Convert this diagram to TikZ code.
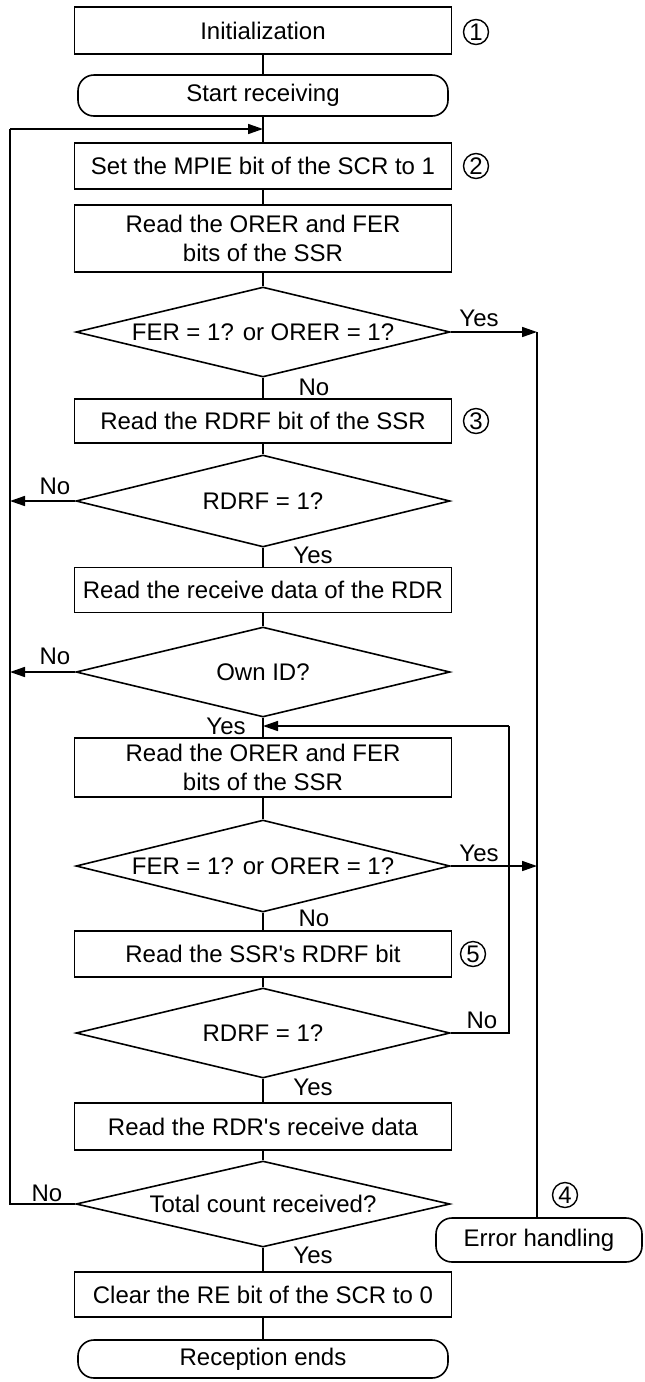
\documentclass[tikz,border=0pt]{standalone}
\usepackage{fontspec}
\setmainfont{Liberation Sans}
\usetikzlibrary{arrows.meta,shapes.geometric}
\begin{document}
\begin{tikzpicture}[x=0.5pt,y=-0.5pt,
  every node/.style={font=\fontsize{12}{14.5}\selectfont},
  procbox/.style={draw,line width=0.8pt,minimum width=188.5pt,inner sep=2pt,align=center},
  termbox/.style={draw,line width=0.8pt,rounded corners=8pt,minimum width=185pt,inner sep=2pt},
  decide/.style={draw,line width=0.8pt,diamond,shape aspect=4,minimum width=187pt,inner sep=0pt},
  lbl/.style={inner sep=0pt},
  num/.style={draw,circle,line width=0.7pt,minimum size=12.5pt,inner sep=0pt},
  conn/.style={line width=0.8pt},
  arr/.style={line width=0.8pt,-{Triangle[length=7.5pt,width=5pt]}}
]
\useasboundingbox (0,0) rectangle (644,1382);

% main column
\node[procbox,minimum height=23.5pt] (init) at (263,30.5) {Initialization};
\node[termbox,minimum height=20.5pt] (start) at (263,95.5) {Start receiving};
\coordinate (j1) at (263,129);
\node[procbox,minimum height=23pt] (mpie) at (263,166) {Set the MPIE bit of the SCR to 1};
\node[procbox,minimum height=33.5pt] (orer1) at (263,238.5) {Read the ORER and FER\\bits of the SSR};
\node[decide,minimum height=45pt] (fer1) at (263,332) {FER = 1? or ORER = 1?};
\node[procbox,minimum height=22pt] (rdrfb1) at (263,421) {Read the RDRF bit of the SSR};
\node[decide,minimum height=46pt] (rdrf1) at (263,501) {RDRF = 1?};
\node[procbox,minimum height=22.5pt] (rdrb1) at (263,590) {Read the receive data of the RDR};
\node[decide,minimum height=45pt] (own) at (263,672) {Own ID?};
\coordinate (j2) at (263,726);
\node[procbox,minimum height=29.5pt] (orer2) at (263,767.5) {Read the ORER and FER\\bits of the SSR};
\node[decide,minimum height=46pt] (fer2) at (263,866) {FER = 1? or ORER = 1?};
\node[procbox,minimum height=23pt] (rdrfb2) at (263,954) {Read the SSR\textquotesingle s RDRF bit};
\node[decide,minimum height=45pt] (rdrf2) at (263,1033) {RDRF = 1?};
\node[procbox,minimum height=23.5pt] (rdrb2) at (263,1126.5) {Read the RDR\textquotesingle s receive data};
\node[decide,minimum height=43pt] (total) at (263,1204) {Total count received?};
\node[procbox,minimum height=22.5pt] (clear) at (263,1294.5) {Clear the RE bit of the SCR to 0};
\node[termbox,minimum height=19pt] (recep) at (263,1359) {Reception ends};

% error handling
\node[termbox,minimum width=103pt,minimum height=22pt] (err) at (539,1240) {Error handling};

% circled step numbers
\node[num] (n1) at (476,32) {1};
\node[num] (n2) at (476,166) {2};
\node[num] (n3) at (476,421) {3};
\node[num] (n5) at (473,954) {5};
\node[num] (n4) at (565,1195) {4};

% side coordinates
\coordinate (e1) at (537,332);
\coordinate (e2) at (537,866);
\coordinate (l1) at (10,501);
\coordinate (l2) at (10,672);
\coordinate (l3) at (10,1204);
\coordinate (l4) at (10,129);
\coordinate (r1) at (509,1033);
\coordinate (r2) at (509,726);

% main flow connectors
\draw[conn] (init) -- (start);
\draw[conn] (start) -- (mpie);
\draw[conn] (mpie) -- (orer1);
\draw[conn] (orer1) -- (fer1);
\draw[conn] (fer1) -- (rdrfb1);
\draw[conn] (rdrfb1) -- (rdrf1);
\draw[conn] (rdrf1) -- (rdrb1);
\draw[conn] (rdrb1) -- (own);
\draw[conn] (own) -- (orer2);
\draw[conn] (orer2) -- (fer2);
\draw[conn] (fer2) -- (rdrfb2);
\draw[conn] (rdrfb2) -- (rdrf2);
\draw[conn] (rdrf2) -- (rdrb2);
\draw[conn] (rdrb2) -- (total);
\draw[conn] (total) -- (clear);
\draw[conn] (clear) -- (recep);

% error branches
\draw[arr] (fer1.east) -- (e1);
\draw[arr] (fer2.east) -- (e2);
\draw[conn] (e1) -- (e1 |- err.north);

% left returns
\draw[arr] (rdrf1.west) -- (l1);
\draw[arr] (own.west) -- (l2);
\draw[conn] (total.west) -- (l3) -- (l4);
\draw[arr] (l4) -- (j1);

% inner loop
\draw[conn] (rdrf2.east) -- (r1) -- (r2);
\draw[arr] (r2) -- (j2);

% branch labels
\node[lbl] (y1) at (479,318) {Yes};
\node[lbl] (no1) at (314,387) {No};
\node[lbl] (no2) at (55,486) {No};
\node[lbl] (y2) at (313,555) {Yes};
\node[lbl] (no3) at (55,656) {No};
\node[lbl] (y3) at (226,726) {Yes};
\node[lbl] (y4) at (479,853) {Yes};
\node[lbl] (no4) at (314,918) {No};
\node[lbl] (no5) at (482,1020) {No};
\node[lbl] (y5) at (313,1087) {Yes};
\node[lbl] (no6) at (47,1193) {No};
\node[lbl] (y6) at (313,1255) {Yes};
\end{tikzpicture}
\end{document}
